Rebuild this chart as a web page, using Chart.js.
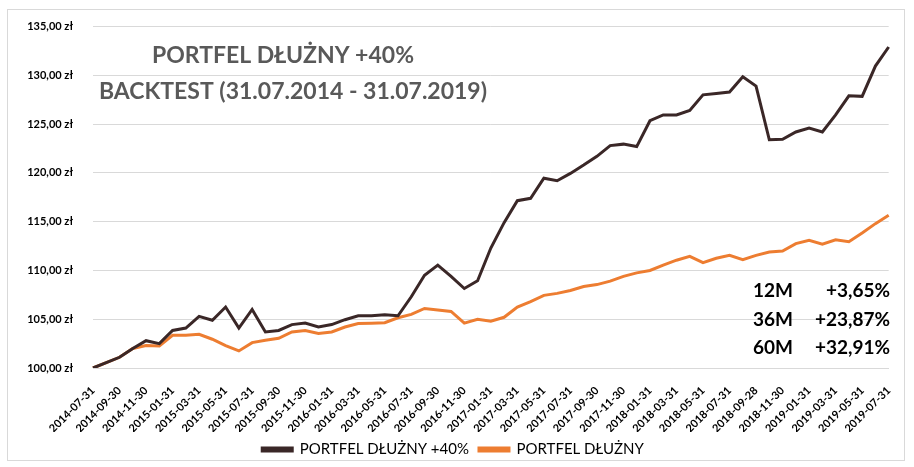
<!DOCTYPE html>
<html>
<head>
<meta charset="utf-8">
<script src="https://cdn.jsdelivr.net/npm/chart.js@4"></script>
<style>
  html, body { margin: 0; padding: 0; background: #fff; }
  #wrap { position: absolute; left: 0; top: 0; width: 914px; height: 467px; }
  #frame { position: absolute; left: 7px; top: 9px; width: 898px; height: 452px; border: 1px solid #d9d9d9; box-sizing: border-box; }
</style>
</head>
<body>
<div id="wrap">
  <div id="frame"></div>
  <canvas id="chartLine" width="914" height="467"></canvas>
</div>
<script>
const dates = [
    "2014-07-31","2014-08-31","2014-09-30","2014-10-31","2014-11-30","2014-12-31",
    "2015-01-31","2015-02-28","2015-03-31","2015-04-30","2015-05-31","2015-06-30",
    "2015-07-31","2015-08-31","2015-09-30","2015-10-31","2015-11-30","2015-12-31",
    "2016-01-31","2016-02-29","2016-03-31","2016-04-30","2016-05-31","2016-06-30",
    "2016-07-31","2016-08-31","2016-09-30","2016-10-31","2016-11-30","2016-12-31",
    "2017-01-31","2017-02-28","2017-03-31","2017-04-30","2017-05-31","2017-06-30",
    "2017-07-31","2017-08-31","2017-09-30","2017-10-31","2017-11-30","2017-12-31",
    "2018-01-31","2018-02-28","2018-03-31","2018-04-30","2018-05-31","2018-06-30",
    "2018-07-31","2018-08-31","2018-09-28","2018-10-31","2018-11-30","2018-12-31",
    "2019-01-31","2019-02-28","2019-03-31","2019-04-30","2019-05-31","2019-06-30",
    "2019-07-31"
];

const portfel40 = [
    100, 100.55, 101.1, 102.0, 102.8, 102.5, 103.85, 104.1, 105.3, 104.9,
    106.25, 104.1, 106.0, 103.7, 103.85, 104.45, 104.6, 104.2, 104.45, 104.95,
    105.35, 105.35, 105.45, 105.35, 107.3, 109.5, 110.55, 109.4, 108.15, 108.95,
    112.3, 114.9, 117.15, 117.4, 119.45, 119.2, 119.95, 120.8, 121.7, 122.8,
    122.95, 122.7, 125.35, 125.95, 125.95, 126.4, 128.0, 128.15, 128.3, 129.85,
    128.9, 123.4, 123.45, 124.2, 124.6, 124.2, 125.95, 127.9, 127.85, 130.95,
    132.91
];

const portfel = [
    100, 100.55, 101.1, 102.0, 102.3, 102.25, 103.35, 103.35, 103.45, 102.95,
    102.3, 101.75, 102.6, 102.85, 103.05, 103.7, 103.85, 103.55, 103.7, 104.2,
    104.55, 104.6, 104.65, 105.15, 105.5, 106.1, 105.95, 105.8, 104.6, 105.0,
    104.8, 105.2, 106.25, 106.8, 107.45, 107.65, 107.95, 108.35, 108.55, 108.9,
    109.4, 109.75, 110.0, 110.55, 111.05, 111.45, 110.8, 111.25, 111.55, 111.1,
    111.55, 111.9, 112.0, 112.75, 113.1, 112.7, 113.15, 112.95, 113.85, 114.8,
    115.65
];

const titleLines = ["PORTFEL DŁUŻNY +40%", "BACKTEST (31.07.2014 - 31.07.2019)"];
const returnLabels = ["12M", "36M", "60M"];
const returnValues = ["+3,65%", "+23,87%", "+32,91%"];

const font = "Lato, 'Open Sans', sans-serif";

// title and return boxes drawn inside the plot
const overlayText = {
    id: "overlayText",
    afterDraw(chart) {
        const ctx = chart.ctx;
        ctx.save();
        ctx.textBaseline = "middle";
        ctx.fillStyle = "#595959";
        ctx.font = "bold 23px " + font;
        ctx.textAlign = "center";
        ctx.fillText(titleLines[0], 283, 56);
        ctx.fillText(titleLines[1], 293, 92);

        ctx.fillStyle = "#000";
        ctx.font = "bold 19px " + font;
        for (let i = 0; i < returnLabels.length; i++) {
            const y = 291 + i * 28.5;
            ctx.textAlign = "left";
            ctx.fillText(returnLabels[i], 753, y);
            ctx.textAlign = "right";
            ctx.fillText(returnValues[i], 890, y);
        }
        ctx.restore();
    }
};

const data = {
    labels: dates,
    datasets: [
        {
            label: "PORTFEL DŁUŻNY +40%",
            data: portfel40,
            borderColor: "#3a2727",
            backgroundColor: "#3a2727",
            borderWidth: 3,
            pointRadius: 0,
            tension: 0,
        },
        {
            label: "PORTFEL DŁUŻNY",
            data: portfel,
            borderColor: "#ed7d31",
            backgroundColor: "#ed7d31",
            borderWidth: 3,
            pointRadius: 0,
            tension: 0,
        }
    ]
};

const config = {
    type: "line",
    data,
    options: {
        responsive: false,
        animation: false,
        layout: { padding: { left: 8, right: 16, top: 18, bottom: 0 } },
        plugins: {
            legend: {
                position: "bottom",
                labels: {
                    boxWidth: 30,
                    boxHeight: 3,
                    color: "#000",
                    font: { family: font, size: 15 },
                    padding: 10,
                },
            },
            tooltip: { enabled: false },
        },
        scales: {
            x: {
                offset: false,
                afterFit(scale) { scale.height = 64; },
                grid: { display: false, drawTicks: false },
                border: { color: "#d9d9d9" },
                ticks: {
                    autoSkip: false,
                    maxRotation: 45,
                    minRotation: 45,
                    color: "#000",
                    font: { family: font, size: 11, weight: "bold" },
                    padding: 16,
                    callback: function(value, index) {
                        return index % 2 === 0 ? this.getLabelForValue(value) : "";
                    }
                }
            },
            y: {
                min: 100,
                max: 135,
                afterFit(scale) { scale.width = 85; },
                grid: { color: "#d9d9d9", drawTicks: false },
                border: { display: false },
                ticks: {
                    stepSize: 5,
                    color: "#000",
                    padding: 20,
                    font: { family: font, size: 11, weight: "bold" },
                    callback: v => v.toFixed(2).replace(".", ",") + " zł"
                }
            }
        }
    },
    plugins: [overlayText]
};

var chartLine = new Chart(document.getElementById("chartLine"), config);
</script>
</body>
</html>
